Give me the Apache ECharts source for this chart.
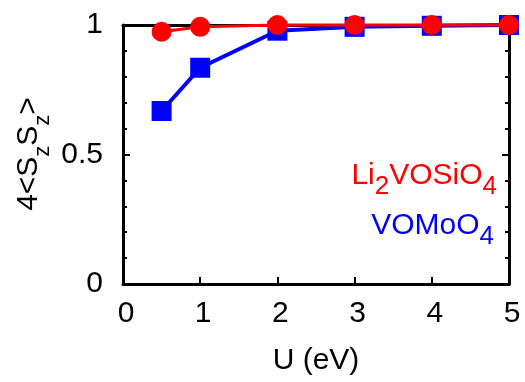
<!DOCTYPE html>
<html><head><meta charset="utf-8">
<script src="https://cdn.jsdelivr.net/npm/echarts@6/dist/echarts.min.js"></script>
<style>html,body{margin:0;padding:0;background:#fff}#c{width:525px;height:382px}</style>
</head><body><div id="c"></div>
<script>
const uValues = [0.5, 1, 2, 3, 4, 5];
const li2vosio4 = [0.974, 0.993, 1.0, 1.0, 1.0, 1.0];
const vomoo4 = [0.668, 0.835, 0.978, 0.993, 0.997, 1.0];
const xTicks = [0, 1, 2, 3, 4, 5];
const yTicks = [0, 0.5, 1];
const FONT = '"Liberation Sans", Arial, sans-serif';

const chart = echarts.init(document.getElementById('c'), null, {renderer: 'canvas'});
const axisLine = {show: true, onZero: false, lineStyle: {color: '#000', width: 3}};
const tick = {inside: true, length: 7, lineStyle: {color: '#000', width: 2}};
const minor = {show: true, splitNumber: 5, length: 4, lineStyle: {color: '#000', width: 2}};
const pairs = (xs, ys) => xs.map((x, i) => [x, ys[i]]);

chart.setOption({
  animation: false,
  grid: {left: 123, right: 16, top: 25, bottom: 98, containLabel: false},
  xAxis: [{
    type: 'value', min: xTicks[0], max: xTicks[xTicks.length - 1], interval: 1,
    axisLine: axisLine, splitLine: {show: false}, axisTick: tick,
    axisLabel: {fontSize: 30, color: '#000', fontFamily: FONT, margin: 15, padding: [0, 0, 0, 6]},
    name: 'U (eV)', nameLocation: 'middle', nameGap: 62,
    nameTextStyle: {fontSize: 30, color: '#000', fontFamily: FONT}
  }, {
    type: 'value', position: 'top', min: 0, max: 5, interval: 1,
    axisLine: axisLine, splitLine: {show: false}, axisTick: tick,
    axisLabel: {show: false}
  }],
  yAxis: [{
    type: 'value', min: yTicks[0], max: yTicks[yTicks.length - 1], interval: 0.5,
    axisLine: axisLine, splitLine: {show: false}, axisTick: tick, minorTick: minor,
    axisLabel: {fontSize: 30, color: '#000', fontFamily: FONT, margin: 20,
      formatter: v => (yTicks.includes(v) ? String(v) : '')}
  }, {
    type: 'value', position: 'right', min: 0, max: 1, interval: 0.5,
    axisLine: axisLine, splitLine: {show: false}, axisTick: tick, minorTick: minor,
    axisLabel: {show: false}
  }],
  series: [{
    name: 'VOMoO4', type: 'line', data: pairs(uValues, vomoo4),
    symbol: 'rect', symbolSize: 20, clip: false,
    lineStyle: {color: '#0000ff', width: 4}, itemStyle: {color: '#0000ff'}, z: 3
  }, {
    name: 'Li2VOSiO4', type: 'line', data: pairs(uValues, li2vosio4),
    symbol: 'circle', symbolSize: 20, clip: false,
    lineStyle: {color: '#ff0000', width: 3}, itemStyle: {color: '#ff0000'}, z: 4
  }],
  graphic: [{
    type: 'text', x: 34, y: 154, rotation: Math.PI / 2,
    style: {
      text: '{m|4<S}{s|z}{m|S}{s|z}{m|>}', align: 'center', verticalAlign: 'middle',
      fontSize: 30, fontFamily: FONT, fill: '#000',
      rich: {
        m: {fontSize: 30, fontFamily: FONT, fill: '#000', verticalAlign: 'top'},
        s: {fontSize: 22, fontFamily: FONT, fill: '#000', verticalAlign: 'top', padding: [18, 0, 0, 0]}
      }
    }
  }, {
    type: 'text', x: 497, y: 180,
    style: {
      text: '{m|Li}{s|2}{m|VOSiO}{s|4}', align: 'right', verticalAlign: 'middle',
      fontSize: 30, fontFamily: FONT, fill: '#ff0000',
      rich: {
        m: {fontSize: 30, fontFamily: FONT, fill: '#ff0000', verticalAlign: 'top'},
        s: {fontSize: 26, fontFamily: FONT, fill: '#ff0000', verticalAlign: 'top', padding: [13, 0, 0, 0]}
      }
    }
  }, {
    type: 'text', x: 494, y: 230,
    style: {
      text: '{m|VOMoO}{s|4}', align: 'right', verticalAlign: 'middle',
      fontSize: 30, fontFamily: FONT, fill: '#0000ff',
      rich: {
        m: {fontSize: 30, fontFamily: FONT, fill: '#0000ff', verticalAlign: 'top'},
        s: {fontSize: 26, fontFamily: FONT, fill: '#0000ff', verticalAlign: 'top', padding: [13, 0, 0, 0]}
      }
    }
  }]
});
</script></body></html>
